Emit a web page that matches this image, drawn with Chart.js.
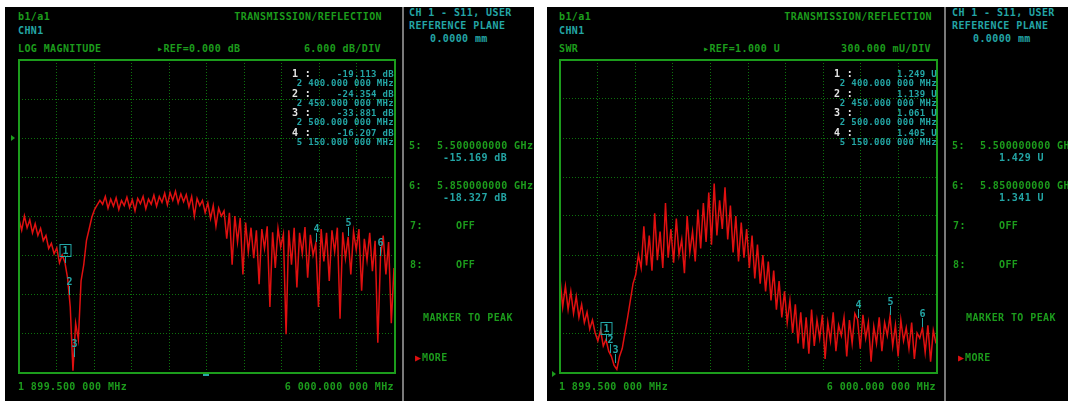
<!DOCTYPE html>
<html>
<head>
<meta charset="utf-8">
<script src="https://cdn.jsdelivr.net/npm/chart.js@4/dist/chart.umd.min.js"></script>
<style>
  html, body { margin: 0; padding: 0; background: #fff; }
  body { position: relative; width: 1068px; height: 401px; overflow: hidden; }
  .panel { position: absolute; background: #000; }
  .divider { position: absolute; background: #7a7a7a; width: 2px; }
  .box { position: absolute; box-sizing: border-box; border: 2px solid #1c9c1c; }
  canvas { position: absolute; }
  .t { position: absolute; white-space: pre; font-family: "DejaVu Sans Mono", monospace; font-weight: bold;
       font-size: 10px; line-height: 10px; letter-spacing: 0.4px; }
  .s { font-size: 9px; line-height: 9px; letter-spacing: 0.3px; }
  .tri { position: absolute; width: 0; height: 0; border-top: 3px solid transparent;
         border-bottom: 3px solid transparent; border-left: 4px solid #1c9c1c; }
</style>
</head>
<body>
<div class="panel" style="left:5px;top:7px;width:529px;height:394px"></div>
<div class="panel" style="left:547px;top:7px;width:521px;height:394px"></div>
<div class="divider" style="left:402px;top:7px;height:394px"></div>
<div class="divider" style="left:944px;top:7px;height:394px"></div>

<canvas id="logmag" width="375" height="312" style="left:19px;top:60px"></canvas>
<canvas id="swr" width="376" height="312" style="left:560px;top:60px"></canvas>
<div class="box" style="left:18px;top:59px;width:378px;height:315px"></div>
<div class="box" style="left:559px;top:59px;width:379px;height:315px"></div>
<div class="tri" style="left:11px;top:135px"></div>
<div class="tri" style="left:552px;top:371px"></div>
<div style="position:absolute;left:203px;top:374px;width:6px;height:2px;background:#2aa6a6"></div>

<script>
const FREQ_START = 1899.5;
const FREQ_STOP = 6000;

// S11 log magnitude trace (dB), sweep points left to right
const logMag = [
  -12.5, -14.2, -12.0, -13.8, -12.6, -14.6,
  -13.2, -15.0, -13.9, -15.8, -15.0, -17.0, -16.2,
  -17.8, -16.9, -19.2, -18.0,
  -19.1,
  -21.5, -26.0, -35.8, -28.5, -31.0, -22.0,
  -19.5, -15.8, -14.0, -12.2, -11.0, -10.3, -9.6,
  -10.2, -9.0, -10.8, -9.4, -10.5, -9.2, -11.0, -9.6, -10.4, -9.1,
  -10.7, -9.5, -11.2, -9.3, -10.1, -9.0, -10.9, -9.4, -10.2, -8.8,
  -10.5, -9.0, -9.9, -8.5, -10.3, -8.4, -9.6, -8.2, -10.0, -8.6,
  -9.8, -8.7, -10.6, -9.0, -12.0, -9.3, -10.4,
  -9.6, -11.5, -10.0, -12.4, -10.4, -13.6, -10.8, -12.0,
  -11.2, -15.5, -11.5, -19.5, -12.0, -16.0, -12.3, -21.0, -13.0, -17.5,
  -13.8, -18.5, -14.2, -22.5, -14.0, -17.0, -13.6, -26.0, -14.5, -20.0,
  -13.9, -16.8, -14.8, -30.2, -14.2, -19.5, -13.8, -23.0, -14.6, -17.8,
  -13.7, -21.5, -14.9, -18.0, -16.2, -26.0, -14.0, -19.0, -14.6, -22.0,
  -14.2, -17.5, -13.8, -27.8, -14.5, -18.5, -15.2, -21.0, -14.4, -17.2,
  -14.0, -23.5, -15.5, -18.8, -14.6, -20.5, -15.8, -31.5, -18.3, -15.0,
  -21.0, -16.0, -28.5, -20.0
];

// SWR trace (U)
const swr = [
  1.72, 1.50, 1.66, 1.48, 1.62, 1.45,
  1.58, 1.42, 1.52, 1.38, 1.46, 1.33, 1.40,
  1.30, 1.24, 1.32, 1.20,
  1.25,
  1.16, 1.12, 1.05, 1.02, 1.12, 1.18, 1.30, 1.42, 1.55, 1.68, 1.75, 1.90, 1.80,
  2.12, 1.82, 2.05, 1.78, 2.22, 1.86, 2.08, 1.80, 2.30, 1.88,
  2.10, 1.84, 2.18, 1.90, 2.02, 1.76, 2.20, 1.92, 2.08, 1.85,
  2.25, 1.95, 2.30, 2.00, 2.38, 1.98, 2.45, 2.05, 2.32, 2.10,
  2.42, 2.02, 2.28, 1.92, 2.20, 1.85, 2.15,
  1.88, 2.10, 1.80, 2.05, 1.72, 1.98, 1.68, 1.90,
  1.62, 1.85, 1.55, 1.78, 1.48, 1.70, 1.42, 1.62, 1.38, 1.55,
  1.30, 1.52, 1.22, 1.46, 1.18, 1.42, 1.14, 1.48, 1.20, 1.40,
  1.26, 1.44, 1.10, 1.38, 1.24, 1.46, 1.16, 1.36, 1.28, 1.42,
  1.12, 1.40, 1.22, 1.45, 1.405, 1.18, 1.44, 1.26, 1.38, 1.08,
  1.35, 1.22, 1.42, 1.16, 1.38, 1.28, 1.43, 1.20, 1.36, 1.12,
  1.40, 1.24, 1.34, 1.18, 1.38, 1.10, 1.30, 1.26, 1.34, 1.15,
  1.36, 1.08, 1.32, 1.22
];

const markerFreqs = [2400, 2450, 2500, 5150, 5500, 5850];
const logMagMarkers = [-19.113, -24.354, -33.881, -16.207, -15.169, -18.327];
const swrMarkers = [1.249, 1.139, 1.061, 1.405, 1.429, 1.341];

const logTicks = [-36, -30, -24, -18, -12, -6, 0, 6, 12];
const swrTicks = [1.0, 1.3, 1.6, 1.9, 2.2, 2.5, 2.8, 3.1, 3.4];

const GREEN = '#1c9c1c';
const CYAN = '#23a5a5';
const WHITE = '#e4e4e4';
const RED = '#e01010';
const GRID = '#0d720d';

// screen text
function txt(x, y, s, color, opts) {
  opts = opts || {};
  const d = document.createElement('div');
  d.className = 't' + (opts.small ? ' s' : '');
  d.textContent = s;
  d.style.color = color;
  d.style.top = y + 'px';
  if (opts.right) d.style.right = (1068 - x) + 'px';
  else d.style.left = x + 'px';
  document.body.appendChild(d);
}

function screenText(dx, p) {
  txt(18 + dx, 12, 'b1/a1', GREEN);
  txt(p.titleRight, 12, 'TRANSMISSION/REFLECTION', GREEN, {right: true});
  txt(18 + dx, 26, 'CHN1', CYAN);
  txt(18 + dx, 44, p.format, GREEN);
  txt(p.refX, 44, p.ref, GREEN);
  txt(p.titleRight - 1, 44, p.scale, GREEN, {right: true});
  txt(p.sideX, 8, 'CH 1 - S11, USER', CYAN);
  txt(p.sideX, 21, 'REFERENCE PLANE', CYAN);
  txt(p.sideX + 21, 34, '0.0000 mm', CYAN);
  // marker table
  const names = ['2 400.000 000 MHz', '2 450.000 000 MHz', '2 500.000 000 MHz', '5 150.000 000 MHz'];
  for (let i = 0; i < 4; i++) {
    const y = 69 + i * 19.5;
    txt(p.tableX, y, (i + 1) + ' :', WHITE);
    txt(p.tableRight, y + 1, p.values[i], CYAN, {right: true, small: true});
    txt(p.tableRight, y + 10, names[i], CYAN, {right: true, small: true});
  }
  txt(p.sideX, 141, '5:', GREEN);
  txt(p.sideX + 28, 141, '5.500000000 GHz', GREEN);
  txt(p.valX, 153, p.values[4], CYAN);
  txt(p.sideX, 181, '6:', GREEN);
  txt(p.sideX + 28, 181, '5.850000000 GHz', GREEN);
  txt(p.valX, 193, p.values[5], CYAN);
  txt(p.sideX + 1, 221, '7:', GREEN);
  txt(p.sideX + 47, 221, 'OFF', GREEN);
  txt(p.sideX + 1, 260, '8:', GREEN);
  txt(p.sideX + 47, 260, 'OFF', GREEN);
  txt(p.sideX + 14, 313, 'MARKER TO PEAK', GREEN);
  txt(p.sideX + 6, 353, '\u25B6', RED);
  txt(p.sideX + 13, 353, 'MORE', GREEN);
  txt(18 + dx, 382, '1 899.500 000 MHz', GREEN);
  txt(p.axisRight, 382, '6 000.000 000 MHz', GREEN, {right: true});
}

screenText(0, {
  titleRight: 382, format: 'LOG MAGNITUDE', refX: 157, ref: '\u25B8REF=0.000 dB', scale: '6.000 dB/DIV',
  sideX: 409, tableX: 292, tableRight: 394, valX: 443, axisRight: 394,
  values: ['-19.113 dB', '-24.354 dB', '-33.881 dB', '-16.207 dB', '-15.169 dB', '-18.327 dB']
});
screenText(541, {
  titleRight: 932, format: 'SWR', refX: 703, ref: '\u25B8REF=1.000 U', scale: '300.000 mU/DIV',
  sideX: 952, tableX: 834, tableRight: 937, valX: 999, axisRight: 936,
  values: ['1.249 U', '1.139 U', '1.061 U', '1.405 U', '1.429 U', '1.341 U']
});

const markerPlugin = {
  id: 'markers',
  afterDatasetsDraw(chart, args, opts) {
    const ctx = chart.ctx;
    const xs = chart.scales.x, ys = chart.scales.y;
    ctx.save();
    ctx.font = 'bold 10px "DejaVu Sans Mono"';
    ctx.textAlign = 'center';
    ctx.lineWidth = 1;
    ctx.strokeStyle = CYAN;
    ctx.fillStyle = CYAN;
    opts.freqs.forEach((f, i) => {
      const px = Math.round(xs.getPixelForValue(f)) + 0.5;
      const py = Math.round(ys.getPixelForValue(opts.values[i]));
      ctx.beginPath();
      if (i === 0) {
        ctx.strokeRect(px - 5.5, py - 17.5, 11, 12);
        ctx.fillText('1', px, py - 8);
        ctx.moveTo(px, py - 5);
        ctx.lineTo(px, py + 1);
      } else {
        ctx.fillText(String(i + 1), px, py - 11);
        ctx.moveTo(px, py - 10);
        ctx.lineTo(px, py - 1);
      }
      ctx.stroke();
    });
    ctx.restore();
  }
};

function sweep(values) {
  const step = (FREQ_STOP - FREQ_START) / (values.length - 1);
  return values.map((v, i) => ({x: FREQ_START + i * step, y: v}));
}

function makeChart(id, values, yTicks, markerValues) {
  const span = FREQ_STOP - FREQ_START;
  const xTicks = [];
  for (let k = 0; k <= 10; k++) xTicks.push(FREQ_START + k * span / 10);
  const grid = {color: GRID, lineWidth: 1, drawTicks: false};
  const border = {display: false, dash: [1, 2]};
  return new Chart(document.getElementById(id), {
    type: 'line',
    data: {
      datasets: [{
        data: sweep(values),
        borderColor: RED,
        borderWidth: 1.5,
        pointRadius: 0,
        tension: 0
      }]
    },
    options: {
      responsive: false,
      animation: false,
      devicePixelRatio: 1,
      layout: {padding: 0},
      plugins: {
        legend: {display: false},
        tooltip: {enabled: false},
        markers: {freqs: markerFreqs, values: markerValues}
      },
      scales: {
        x: {
          type: 'linear', min: FREQ_START, max: FREQ_STOP,
          ticks: {display: false}, grid: grid, border: border,
          afterBuildTicks: a => { a.ticks = xTicks.map(v => ({value: v})); },
          afterFit: a => { a.height = 0; }
        },
        y: {
          min: yTicks[0], max: yTicks[yTicks.length - 1],
          ticks: {display: false}, grid: grid, border: border,
          afterBuildTicks: a => { a.ticks = yTicks.map(v => ({value: v})); },
          afterFit: a => { a.width = 0; }
        }
      }
    },
    plugins: [markerPlugin]
  });
}

makeChart('logmag', logMag, logTicks, logMagMarkers);
makeChart('swr', swr, swrTicks, swrMarkers);
</script>
</body>
</html>
